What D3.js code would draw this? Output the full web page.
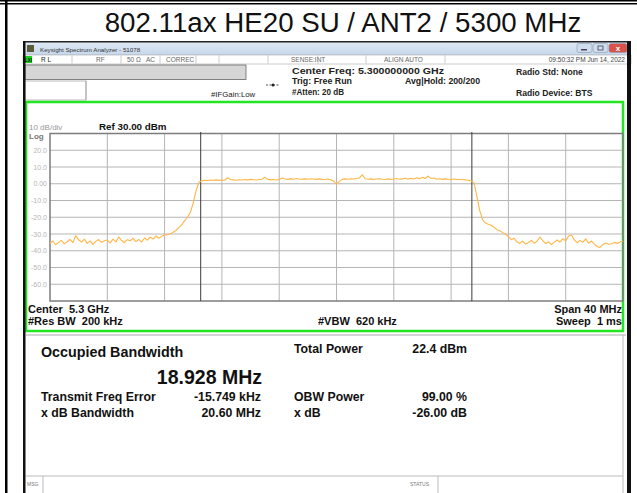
<!DOCTYPE html>
<html lang="en">
<meta charset="utf-8" />
<style>
    body { margin: 0; background: #fff; }
    svg { display: block; font-family: "Liberation Sans", Arial, sans-serif; }
    .grid line { stroke: #b5b5b5; stroke-width: 1px; }
    .trace { fill: none; stroke: #ffb648; stroke-width: 1.1px; stroke-linejoin: round; }
</style>
<body>
<script src="https://d3js.org/d3.v7.min.js"></script>
<script>
    // ---- data ----
    var title = "802.11ax HE20 SU / ANT2 / 5300 MHz"
    var centerGHz = 5.3
    var spanMHz = 40
    var refLevel = 30
    var dbPerDiv = 10
    var yTicks = [20, 10, 0, -10, -20, -30, -40, -50, -60]
    var yTickLabels = ["20.0", "10.0", "0.00", "-10.0", "-20.0", "-30.0", "-40.0", "-50.0", "-60.0"]
    // OBW edges, MHz offset from center
    var obwEdges = [-9.48, 9.45]

    // trace, 201 sweep points over the span (dBm)
    var level = [
        -35.5, -34.2, -36.4, -35.0, -33.8, -35.9, -34.6, -33.2, -35.1, -31.0,
        -33.5, -34.8, -33.0, -35.6, -34.1, -36.2, -34.4, -33.3, -35.0, -34.0,
        -33.6, -35.3, -33.1, -34.7, -31.8, -33.9, -35.2, -33.4, -34.0, -32.6,
        -34.5, -33.2, -34.8, -32.4, -33.7, -31.9, -33.0, -31.2, -32.5, -31.4,
        -30.6, -30.4, -29.8, -29.0, -27.9, -26.0, -24.5, -22.0, -20.0, -17.0,
        -11.5, -4.0, 0.9, 1.8, 2.0, 1.9, 2.2, 2.1, 2.3, 2.0,
        2.2, 2.1, 3.6, 2.5, 2.3, 2.1, 2.4, 2.2, 2.5, 2.3,
        2.6, 2.4, 2.2, 2.5, 2.7, 3.9, 2.6, 2.3, 2.5, 2.2,
        2.6, 3.5, 2.8, 2.6, 2.9, 2.7, 3.1, 2.8, 2.6, 2.9,
        2.7, 3.0, 2.8, 2.6, 2.9, 2.7, 2.5, 2.8, 2.4, 1.6,
        -0.3, 1.4, 2.6, 2.9, 2.7, 3.0, 2.8, 3.1, 3.4, 5.4,
        3.0, 2.7, 2.9, 2.6, 2.8, 3.0, 2.7, 2.5, 2.9, 2.6,
        2.8, 3.1, 2.7, 2.9, 3.3, 2.7, 3.2, 2.8, 3.6, 3.0,
        3.8, 3.2, 4.6, 3.1, 3.4, 2.7, 3.0, 2.6, 2.9, 2.7,
        2.5, 2.8, 2.6, 2.5, 2.4, 2.3, 2.1, 1.8, 0.5, -7.5,
        -16.0, -21.5, -23.5, -24.2, -24.8, -26.0, -27.4, -28.1, -29.2, -30.0,
        -31.6, -33.4, -32.6, -34.8, -35.6, -34.2, -36.0, -35.1, -33.8, -35.5,
        -34.3, -31.8, -33.9, -35.7, -34.6, -36.3, -35.0, -33.6, -34.8, -32.8,
        -34.1, -31.2, -30.6, -33.5, -35.2, -33.8, -34.9, -32.9, -35.5, -34.2,
        -36.0, -37.6, -38.0, -36.2, -35.4, -36.1, -35.8, -35.0, -35.6, -34.8,
        -34.2
    ]

    var titleBarText = "Keysight Spectrum Analyzer - 51078"
    var statusItems = ["R L", "RF", "50 Ω", "AC", "CORREC", "SENSE:INT", "ALIGN AUTO"]
    var statusDate = "09:50:32 PM Jun 14, 2022"
    var setupLines = ["Center Freq: 5.300000000 GHz", "Trig: Free Run", "#Atten: 20 dB"]
    var avgHold = "Avg|Hold: 200/200"
    var ifGain = "#IFGain:Low"
    var radioLines = ["Radio Std: None", "Radio Device: BTS"]
    var footLeft = ["Center  5.3 GHz", "#Res BW  200 kHz"]
    var footMid = "#VBW  620 kHz"
    var footRight = ["Span 40 MHz", "Sweep  1 ms"]

    var obwTitle = "Occupied Bandwidth"
    var obwValue = "18.928 MHz"
    var resultNames = ["Transmit Freq Error", "x dB Bandwidth"]
    var resultValues = ["-15.749 kHz", "20.60 MHz"]
    var powerNames = ["Total Power", "OBW Power", "x dB"]
    var powerValues = ["22.4 dBm", "99.00 %", "-26.00 dB"]

    // ---- drawing ----
    var W = 637, H = 493
    var svg = d3.select("body").append("svg")
        .attr("width", W)
        .attr("height", H)

    // small helper for the many labels
    function label(s, px, py, size, o) {
        o = o || {}
        var t = svg.append("text").text(s)
            .attr("x", px).attr("y", py)
            .attr("font-size", size)
            .attr("fill", o.fill || "#111")
            .style("white-space", "pre")
        if (o.bold) t.attr("font-weight", "bold")
        if (o.anchor) t.attr("text-anchor", o.anchor)
        if (o.fit) t.attr("textLength", o.fit).attr("lengthAdjust", "spacingAndGlyphs")
        return t
    }

    // table cell borders
    svg.append("rect").attr("x", 0).attr("y", 0).attr("width", W).attr("height", 1.5).attr("fill", "#000")
    svg.append("rect").attr("x", 0).attr("y", 3).attr("width", W).attr("height", 1.5).attr("fill", "#000")
    svg.append("rect").attr("x", 5).attr("y", 0).attr("width", 2.5).attr("height", H).attr("fill", "#000")

    label(title, 343, 32, 27.7, { anchor: "middle" })

    // window frame
    var wl = 23, wr = 631
    var grad = svg.append("defs").append("linearGradient")
        .attr("id", "tb").attr("x1", 0).attr("y1", 0).attr("x2", 0).attr("y2", 1)
    grad.append("stop").attr("offset", 0).attr("stop-color", "#dfe9f5")
    grad.append("stop").attr("offset", 1).attr("stop-color", "#c6d6ea")

    svg.append("rect").attr("x", wl).attr("y", 42).attr("width", wr - wl).attr("height", 13)
        .attr("fill", "url(#tb)")
    svg.append("rect").attr("x", 27).attr("y", 45).attr("width", 7).attr("height", 7).attr("fill", "#5b5b3a")
    label(titleBarText, 40, 51.5, 6.2, { fill: "#333" })

    // caption buttons
    var btns = [{ x: 577, w: 15, c: "#cfdcec" }, { x: 593, w: 15, c: "#cfdcec" }, { x: 609, w: 18, c: "#d9534a" }]
    btns.forEach(function(b) {
        svg.append("rect").attr("x", b.x).attr("y", 43.5).attr("width", b.w).attr("height", 9)
            .attr("rx", 2).attr("fill", b.c).attr("stroke", "#8a9bb3").attr("stroke-width", 0.6)
    })
    svg.append("rect").attr("x", 581).attr("y", 49).attr("width", 6).attr("height", 1.5).attr("fill", "#445")
    svg.append("rect").attr("x", 598).attr("y", 46).attr("width", 5).attr("height", 4).attr("fill", "none")
        .attr("stroke", "#445").attr("stroke-width", 0.8)
    label("x", 618, 51, 8, { anchor: "middle", bold: true, fill: "#fff" })

    // status row
    svg.append("rect").attr("x", wl).attr("y", 55).attr("width", wr - wl).attr("height", 9)
        .attr("fill", "#fff").attr("stroke", "#999").attr("stroke-width", 0.5)
    svg.append("rect").attr("x", 25).attr("y", 56).attr("width", 7).attr("height", 7).attr("fill", "#19d119")
    label("LXI", 28.5, 61.8, 4.5, { anchor: "middle", bold: true })
    var statusX = [41, 96, 127, 146, 166, 291, 384]
    statusItems.forEach(function(s, i) {
        label(s, statusX[i], 62, 6.5, { fill: i == 0 ? "#222" : "#666" })
    })
    var seps = [72, 121, 160, 196, 219, 268, 318, 366, 445]
    seps.forEach(function(sx) {
        svg.append("line").attr("x1", sx).attr("x2", sx).attr("y1", 55.5).attr("y2", 63.5)
            .attr("stroke", "#aaa").attr("stroke-width", 0.6)
    })
    label(statusDate, 625, 62, 6.5, { anchor: "end", fill: "#444" })

    // setup area
    svg.append("rect").attr("x", 25).attr("y", 65).attr("width", 221).attr("height", 14.5)
        .attr("fill", "#d6d6d6").attr("stroke", "#666").attr("stroke-width", 0.8)
    svg.append("rect").attr("x", 25).attr("y", 81).attr("width", 61).attr("height", 19)
        .attr("fill", "#fff").attr("stroke", "#aaa").attr("stroke-width", 0.8)
    svg.append("line").attr("x1", 86).attr("x2", 86).attr("y1", 81).attr("y2", 100).attr("stroke", "#aaa")

    label(ifGain, 211, 97, 7.8, { fill: "#222" })
    svg.append("line").attr("x1", 266).attr("x2", 280).attr("y1", 85).attr("y2", 85).attr("stroke", "#222")
        .attr("stroke-width", 0.8).attr("stroke-dasharray", "2,1.5")
    svg.append("circle").attr("cx", 273).attr("cy", 85).attr("r", 1.5).attr("fill", "#222")

    var setupFit = [152, 60, 52]
    setupLines.forEach(function(s, i) {
        label(s, 292, 73.5 + i * 10.5, 8.6, { bold: true, fill: "#222", fit: setupFit[i] })
    })
    label(avgHold, 405, 84, 8.6, { bold: true, fill: "#222", fit: 75 })
    radioLines.forEach(function(s, i) {
        label(s, 516, 75 + i * 21, 8.6, { bold: true, fill: "#222" })
    })

    // plot frame
    svg.append("rect").attr("x", 26).attr("y", 102).attr("width", 597).attr("height", 229)
        .attr("fill", "#fff").attr("stroke", "#22e622").attr("stroke-width", 2.5)

    var x = d3.scaleLinear().domain([-spanMHz / 2, spanMHz / 2]).range([50, 623])
    var y = d3.scaleLinear().domain([refLevel - 10 * dbPerDiv, refLevel]).range([301, 133.5])

    var g = svg.append("g").attr("class", "grid")
    g.selectAll("line.v")
        .data(d3.range(-spanMHz / 2 + 4, spanMHz / 2, 4))
        .enter().append("line").attr("class", "v")
        .attr("x1", d => x(d)).attr("x2", d => x(d))
        .attr("y1", y.range()[1]).attr("y2", y.range()[0])
    g.selectAll("line.h")
        .data(yTicks)
        .enter().append("line").attr("class", "h")
        .attr("x1", x.range()[0]).attr("x2", x.range()[1])
        .attr("y1", d => y(d)).attr("y2", d => y(d))

    svg.append("rect")
        .attr("x", x.range()[0]).attr("y", y.range()[1])
        .attr("width", x.range()[1] - x.range()[0]).attr("height", y.range()[0] - y.range()[1])
        .attr("fill", "none").attr("stroke", "#7d7d7d").attr("stroke-width", 1.5)

    svg.selectAll("text.ytick")
        .data(yTicks)
        .enter().append("text").attr("class", "ytick")
        .text((d, i) => yTickLabels[i])
        .attr("x", 47).attr("y", d => y(d) + 2.5)
        .attr("text-anchor", "end")
        .attr("font-size", 7)
        .attr("fill", "#b5b5b5")

    label(dbPerDiv + " dB/div", 29, 130, 8, { fill: "#9a9a9a" })
    label("Log", 29, 139, 8, { bold: true, fill: "#777" })
    label("Ref " + refLevel.toFixed(2) + " dBm", 99, 130, 9.8, { bold: true })

    // OBW edge markers
    svg.selectAll("line.obw")
        .data(obwEdges)
        .enter().append("line").attr("class", "obw")
        .attr("x1", d => x(d)).attr("x2", d => x(d))
        .attr("y1", y.range()[1] - 1.5).attr("y2", y.range()[0])
        .attr("stroke", "#3a3a3a").attr("stroke-width", 1)

    // trace
    var xi = d3.scaleLinear().domain([0, level.length - 1]).range(x.range())
    var line = d3.line()
        .x((d, i) => xi(i))
        .y(d => y(d))
    svg.append("path").datum(level).attr("class", "trace").attr("d", line)

    // footer of the plot
    footLeft.forEach(function(s, i) {
        label(s, 28, 313 + i * 11.5, 11, { bold: true })
    })
    label(footMid, 318, 324.5, 11, { bold: true })
    footRight.forEach(function(s, i) {
        label(s, 622, 313 + i * 11.5, 11, { bold: true, anchor: "end" })
    })

    // results panel
    svg.append("line").attr("x1", 26).attr("x2", 626).attr("y1", 335).attr("y2", 335)
        .attr("stroke", "#aaa").attr("stroke-width", 1)
    svg.append("line").attr("x1", 623).attr("x2", 623).attr("y1", 335).attr("y2", 493)
        .attr("stroke", "#bbb").attr("stroke-width", 1)

    label(obwTitle, 41, 356.5, 14.3, { bold: true })
    label(obwValue, 262, 383.5, 19.5, { bold: true, anchor: "end" })

    resultNames.forEach(function(s, i) {
        label(s, 41, 400.5 + i * 16.5, 12.3, { bold: true })
        label(resultValues[i], 261, 400.5 + i * 16.5, 12.3, { bold: true, anchor: "end" })
    })
    var powerY = [352.5, 400.5, 417]
    powerNames.forEach(function(s, i) {
        label(s, 294, powerY[i], 12.3, { bold: true })
        label(powerValues[i], 467, powerY[i], 12.3, { bold: true, anchor: "end" })
    })

    // bottom message bar
    svg.append("line").attr("x1", 26).attr("x2", 623).attr("y1", 476).attr("y2", 476)
        .attr("stroke", "#bbb").attr("stroke-width", 1)
    svg.append("line").attr("x1", 43).attr("x2", 43).attr("y1", 476).attr("y2", 493).attr("stroke", "#bbb")
    svg.append("line").attr("x1", 438).attr("x2", 438).attr("y1", 476).attr("y2", 493).attr("stroke", "#bbb")
    label("MSG", 27, 486, 5, { fill: "#777" })
    label("STATUS", 410, 486, 5, { fill: "#777" })

    // window side borders
    svg.append("rect").attr("x", wl).attr("y", 41).attr("width", wr - wl).attr("height", 1.5).attr("fill", "#222")
    svg.append("rect").attr("x", wl).attr("y", 41).attr("width", 2.5).attr("height", H - 41).attr("fill", "#111")
    svg.append("rect").attr("x", 627).attr("y", 41).attr("width", 4).attr("height", H - 41).attr("fill", "#111")
</script>
</body>

</html>
